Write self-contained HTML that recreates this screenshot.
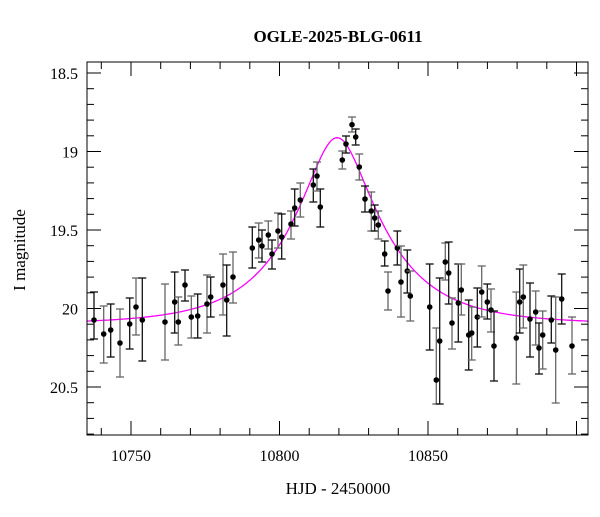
<!DOCTYPE html>
<html><head><meta charset="utf-8"><style>
body{margin:0;background:#fff}
svg text{font-family:"Liberation Serif",serif;fill:#000}
</style></head><body>
<svg id="s" width="600" height="512" xmlns="http://www.w3.org/2000/svg">
<rect width="600" height="512" fill="#fff"/>
<text x="338" y="42" font-size="17" font-weight="bold" text-anchor="middle">OGLE-2025-BLG-0611</text>
<text x="338" y="494" font-size="17" text-anchor="middle">HJD - 2450000</text>
<text transform="translate(25,250) rotate(-90)" font-size="17" text-anchor="middle">I magnitude</text>
<g id="g"></g>
<rect x="87" y="62" width="501" height="373" fill="none" stroke="#000" stroke-width="1"/>
</svg>
<script>
var g=document.getElementById('g'),h='';
function X(t){return 131+(t-10750)*2.97}
function Y(m){return 73+(m-18.5)*157}
for(var t=10740;t<=10900;t+=10){var x=X(t),big=t%50==0,l=big?14:7;
h+='<line x1="'+x+'" y1="435" x2="'+x+'" y2="'+(435-l)+'" stroke="#000"/><line x1="'+x+'" y1="62" x2="'+x+'" y2="'+(62+l)+'" stroke="#000"/>';
if(big&&t<=10850)h+='<text x="'+x+'" y="461" font-size="16" text-anchor="middle">'+t+'</text>';}
for(var i=5;i<=28;i++){var m=18+i/10,y=Y(m),big=i%5==0,l=big?14:7;
h+='<line x1="87" y1="'+y+'" x2="'+(87+l)+'" y2="'+y+'" stroke="#000"/><line x1="588" y1="'+y+'" x2="'+(588-l)+'" y2="'+y+'" stroke="#000"/>';
if(big)h+='<text x="78" y="'+(y+6)+'" font-size="16" text-anchor="end">'+(i==10?'19':i==15?'19.5':i==20?'20':i==25?'20.5':'18.5')+'</text>';}
var p='',u0=0.35,tE=29,t0=10819.4,m0=20.1;
for(var x=87;x<=588;x+=1){var t=10750+(x-131)/2.97,tau=(t-t0)/tE,u=Math.sqrt(u0*u0+tau*tau),A=(u*u+2)/(u*Math.sqrt(u*u+4));
p+=(x==87?'M':'L')+x+' '+Y(m0-2.5*Math.log10(A)).toFixed(1);}
h+='<path d="'+p+'" fill="none" stroke="#f0f" stroke-width="1.3"/>';
var d=[[94,320,292,339],[103.7,334,306,363],[110.7,330,304,357],[120,343,309,377],[129.7,324,298,349],[136,307,278,335],[142.3,320,278,361],[165,322,284,360],[174.7,302,272,333],[178.3,322,297,345],[185,285,270,301],[191.3,317,296,338],[197.7,316,294,338],[207,304,275,333],[210.7,297,277,317],[223,285,254,315],[226.7,300,265,336],[233,277,252,303],[252.3,248,227,268],[258.7,240,223,258],[262,246,230,262],[268.3,235,221,249],[272,254,240,269],[278,231,213,248],[281.7,237,214,259],[291,224,211,239],[294.7,208,189,226],[300.3,200,183,217],[313.3,185,169,202],[317,176,162,191],[320.3,207,189,227],
[342.3,160,151,169],[346,144,136,153],[352,124.7,117,132],[355.7,137,129,145],[359.3,167,154,180],[365,199,186,212],[371.3,211,192,231],[374.7,218,205,231],[378.3,225,211,239],[384.7,254,241,266],[388,291,272,310],[397.3,248,231,265],[401,282,246,317],[407.3,271,250,293],[410.3,296,271,321],[429.7,307,264,350],[436.3,380,328,404],[439.7,341,278,404],[445.3,262,243,280],[448.7,273,242,304],[452,323,298,349],[458.3,303,264,342],[461.3,290,264,315],[468.7,335,300,370],[471.7,333,307,360],[477.3,317,288,347],[481.7,292,266,317],[487.3,302,284,319],[491,310,289,332],[494,346,311,381],[516.3,338,292,384],[519.7,302,269,333],[523.3,297,265,328],[530,319,283,357],[535.7,312,291,345],[539,348,323,374],[542.7,335,311,369],[551.3,320,296,343],[555.7,350,297,403],[561.7,299,274,324],[572,346,317,374]];
d.forEach(function(q,i){var c=i%2?'#666':'#111';
h+='<line x1="'+q[0]+'" y1="'+q[2]+'" x2="'+q[0]+'" y2="'+q[3]+'" stroke="'+c+'" stroke-width="1.3"/>'+
'<line x1="'+(q[0]-4)+'" y1="'+q[2]+'" x2="'+(q[0]+4)+'" y2="'+q[2]+'" stroke="'+c+'" stroke-width="1.3"/>'+
'<line x1="'+(q[0]-4)+'" y1="'+q[3]+'" x2="'+(q[0]+4)+'" y2="'+q[3]+'" stroke="'+c+'" stroke-width="1.3"/>'+
'<circle cx="'+q[0]+'" cy="'+q[1]+'" r="2.8" fill="#000"/>';});
g.innerHTML=h;
</script>
</body></html>
